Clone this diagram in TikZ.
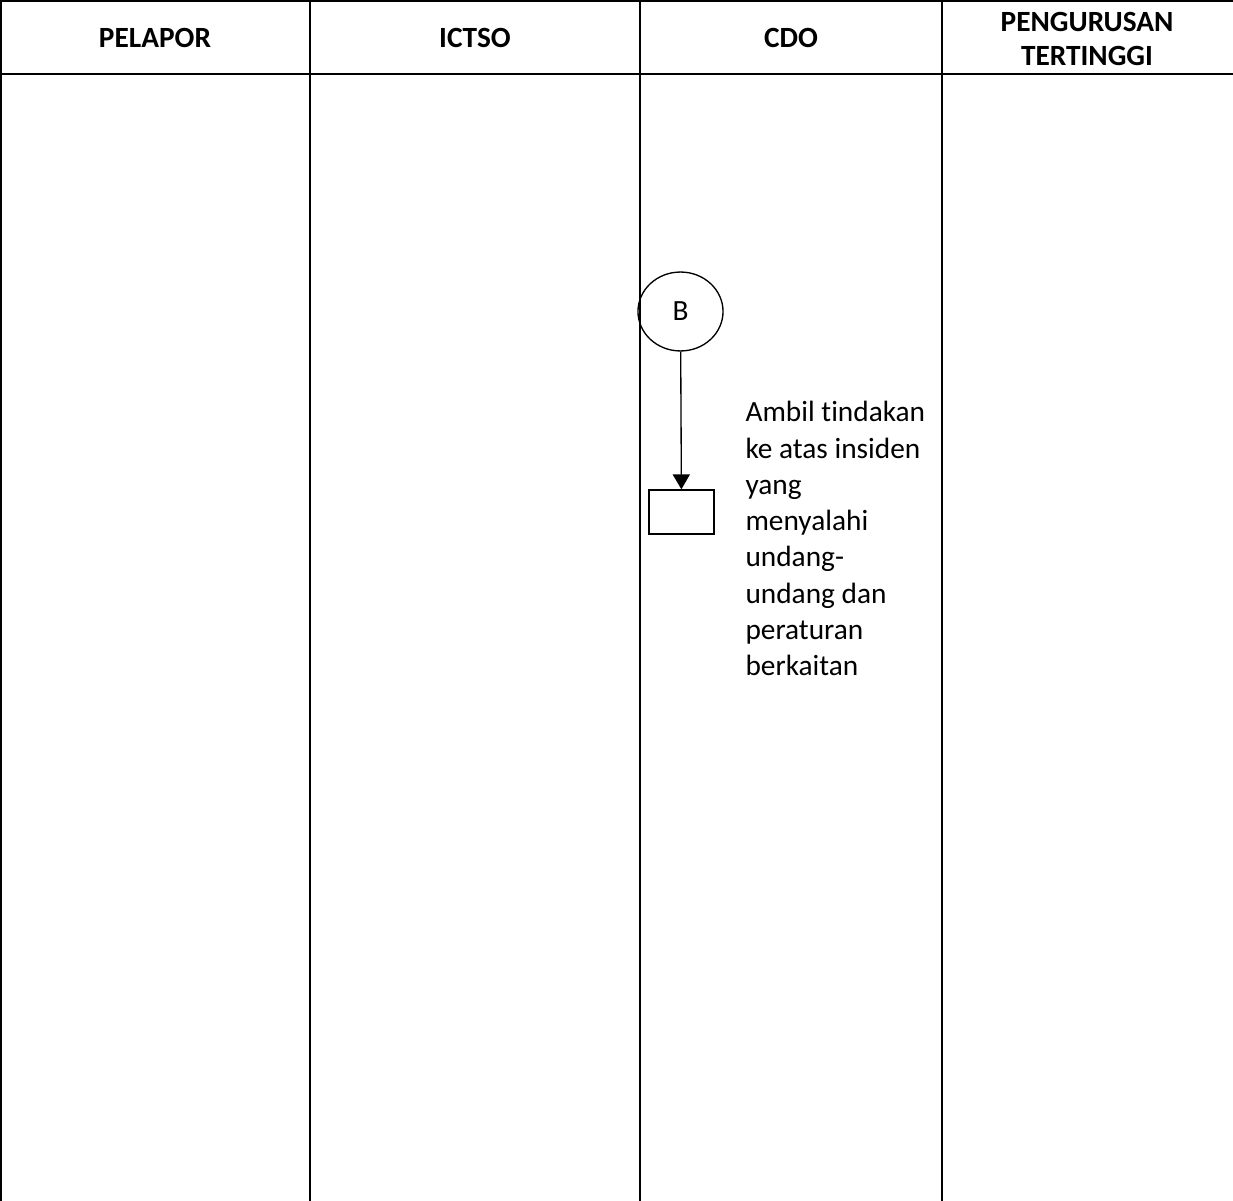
\documentclass[tikz,border=0pt]{standalone}
\usepackage{fontspec}
\setmainfont{Carlito}[RawFeature={-liga,-clig,-calt,-dlig}]
\usetikzlibrary{arrows.meta,shapes.geometric}

\begin{document}
\begin{tikzpicture}[x=0.375pt,y=-0.375pt,
  lane/.style={line width=0.85pt},
  flow/.style={line width=0.5pt},
  head/.style={font=\fontsize{11}{12.75}\selectfont\bfseries, align=center, inner sep=0pt},
  every node/.style={font=\fontsize{11}{13.6}\selectfont}]

\useasboundingbox (0,0) rectangle (1233,1201);

% lanes
\draw[lane] (0,1) -- (1233,1);
\draw[lane] (0,74) -- (1233,74);
\foreach \x in {1,310,640,942}
  \draw[lane] (\x,0) -- (\x,1201);

\node[head, anchor=base] (pelapor) at (155,48) {PELAPOR};
\node[head, anchor=base] (ictso) at (475,48) {ICTSO};
\node[head, anchor=base] (cdo) at (791,48) {CDO};
\node[head] (pengurusan) at (1087,39) {PENGURUSAN\\TERTINGGI};

% flow in CDO lane
\node[draw, flow, ellipse, inner sep=0pt, minimum width=31.9pt, minimum height=29.6pt] (b) at (680.5,311.5) {B};
\node[draw, flow, rectangle, inner sep=0pt, minimum width=24.4pt, minimum height=16.5pt] (act) at (681.5,512) {};
\draw[flow, -{Triangle[length=5.6pt,width=6.4pt]}] (b) -- (act);

\node[anchor=north west, align=left, inner sep=0pt] (actlabel) at (745,401)
  {Ambil tindakan\\ke atas insiden\\yang\\menyalahi\\undang-\\undang dan\\peraturan\\berkaitan};
\end{tikzpicture}
\end{document}
